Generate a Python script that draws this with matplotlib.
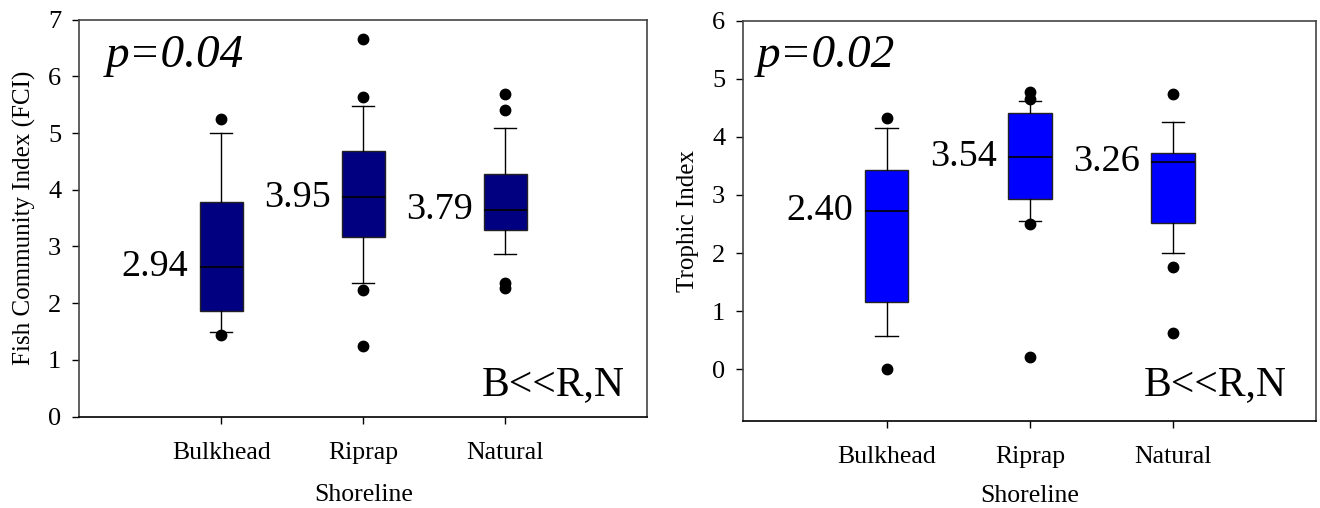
# box plots of fish community index and trophic index by shoreline type
# save to out.png

import matplotlib
matplotlib.use('Agg')
import matplotlib.pyplot as plt

plt.rcParams['font.family'] = ['Liberation Serif', 'DejaVu Serif']

categories = ['Bulkhead', 'Riprap', 'Natural']

# left panel: Fish Community Index (FCI)
fci_whislo = [1.49, 2.36, 2.87]
fci_q1 = [1.866, 3.169, 3.285]
fci_med = [2.64, 3.866, 3.644]
fci_q3 = [3.785, 4.69, 4.278]
fci_whishi = [5.01, 5.48, 5.088]
fci_fliers = [[5.25, 1.43], [6.66, 5.63, 2.23, 1.24], [5.69, 5.41, 2.36, 2.27]]
fci_means = ['2.94', '3.95', '3.79']

# right panel: Trophic Index
ti_whislo = [0.573, 2.547, 1.997]
ti_q1 = [1.153, 2.926, 2.523]
ti_med = [2.73, 3.66, 3.563]
ti_q3 = [3.43, 4.417, 3.717]
ti_whishi = [4.148, 4.61, 4.262]
ti_fliers = [[4.33, 0.0], [4.78, 4.65, 2.50, 0.217], [4.738, 1.766, 0.62]]
ti_means = ['2.40', '3.54', '3.26']


def make_stats(whislo, q1, med, q3, whishi, fliers):
    stats = []
    for i in range(len(categories)):
        stats.append({'whislo': whislo[i], 'q1': q1[i], 'med': med[i],
                      'q3': q3[i], 'whishi': whishi[i], 'fliers': fliers[i]})
    return stats


def draw_panel(ax, stats, means, color, ylim, yticks, ylabel, ptext, ppos, cpos, xpad):
    positions = [1, 2, 3]
    width = 0.305
    ax.bxp(stats, positions=positions, widths=width, capwidths=0.155,
           showfliers=True, patch_artist=True,
           boxprops=dict(facecolor=color, edgecolor='#222222', linewidth=1.0),
           medianprops=dict(color='black', linewidth=1.2),
           whiskerprops=dict(color='black', linewidth=1.0),
           capprops=dict(color='black', linewidth=1.0),
           flierprops=dict(marker='o', markerfacecolor='black',
                           markeredgecolor='black', markersize=7.5))

    # mean labels to the left of each box, at the median height
    for pos, s, lab in zip(positions, stats, means):
        ax.annotate(lab, xy=(pos - width / 2, s['med']), xytext=(-8, 0),
                    textcoords='offset points', ha='right', va='center',
                    fontsize=27.5)

    ax.text(ppos[0], ppos[1], ptext, transform=ax.transAxes, fontsize=34,
            fontstyle='italic', ha='left', va='baseline')
    ax.text(cpos[0], cpos[1], 'B<<R,N', transform=ax.transAxes, fontsize=30,
            ha='right', va='baseline')

    ax.set_xlim(0, 4)
    ax.set_ylim(*ylim)
    ax.set_yticks(yticks)
    ax.set_xticks(positions)
    ax.set_xticklabels(categories)
    ax.tick_params(axis='y', direction='out', length=5, width=1, labelsize=19, pad=8)
    ax.tick_params(axis='x', direction='out', length=5, width=1, labelsize=18.5, pad=13)
    ax.set_ylabel(ylabel, fontsize=18, labelpad=9)
    ax.set_xlabel('Shoreline', fontsize=18.5, labelpad=xpad)

    for side in ['left', 'right', 'top']:
        ax.spines[side].set_color('#444444')
        ax.spines[side].set_linewidth(1.2)
    ax.spines['bottom'].set_color('black')
    ax.spines['bottom'].set_linewidth(1.2)


fig = plt.figure(figsize=(13.2, 5.08), dpi=100)
ax1 = fig.add_axes([0.0601, 0.1801, 0.4303, 0.7811])
ax2 = fig.add_axes([0.5631, 0.1703, 0.4342, 0.789])

draw_panel(ax1, make_stats(fci_whislo, fci_q1, fci_med, fci_q3, fci_whishi, fci_fliers),
           fci_means, '#000080', (0, 7), range(0, 8),
           'Fish Community Index (FCI)', 'p=0.04', (0.047, 0.8815), (0.961, 0.054), 15)
draw_panel(ax2, make_stats(ti_whislo, ti_q1, ti_med, ti_q3, ti_whishi, ti_fliers),
           ti_means, '#0000FF', (-0.9, 6), range(0, 7),
           'Trophic Index', 'p=0.02', (0.0234, 0.885), (0.949, 0.066), 12)

fig.savefig('out.png', dpi=100)
